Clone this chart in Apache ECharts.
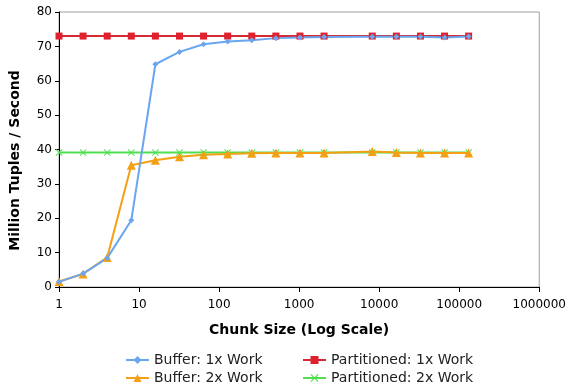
<!DOCTYPE html>
<html><head><meta charset="utf-8">
<script src="https://cdn.jsdelivr.net/npm/echarts@6/dist/echarts.min.js"></script>
<style>html,body{margin:0;padding:0;background:#fff}#c{width:569px;height:390px}</style>
</head><body><div id="c"></div>
<script>
const chunkSizes = [1,2,4,8,16,32,64,128,256,512,1024,2048,8192,16384,32768,65536,131072];
const buffer1x = [1.5,3.9,8.4,19.4,64.8,68.4,70.6,71.4,71.8,72.4,72.6,72.7,72.8,72.8,72.8,72.6,72.9];
const buffer2x = [1.6,3.8,8.6,35.4,36.9,37.9,38.5,38.7,38.9,39.0,39.0,39.0,39.4,39.1,39.0,39.0,39.0];
const partitioned1x = [73,73,73,73,73,73,73,73,73,73,73,73,73,73,73,73,73];
const partitioned2x = [39.1,39.1,39.1,39.1,39.1,39.1,39.1,39.1,39.1,39.1,39.1,39.1,39.1,39.1,39.1,39.1,39.1];
const xTicks = [1,10,100,1000,10000,100000,1000000];
const yTicks = [0,10,20,30,40,50,60,70,80];

const pair = arr => chunkSizes.map((x,i)=>[x,arr[i]]);
const xShape = 'path://M0,1L1,0L5,4L9,0L10,1L6,5L10,9L9,10L5,6L1,10L0,9L4,5Z';
const font = 'DejaVu Sans';
const chart = echarts.init(document.getElementById('c'));
const legendCommon = {orient:'vertical',top:353,padding:0,itemWidth:23,itemHeight:10,itemGap:4,
  textStyle:{fontFamily:font,fontSize:14,color:'#222'}};
chart.setOption({
  animation:false,
  textStyle:{fontFamily:font},
  grid:{left:58,right:27,top:12,bottom:103,show:true,borderColor:'#a0a0a0',borderWidth:1},
  xAxis:{type:'log',logBase:10,min:xTicks[0],max:xTicks[xTicks.length-1],
    name:'Chunk Size (Log Scale)',nameLocation:'middle',nameGap:36,
    nameTextStyle:{fontFamily:font,fontWeight:'bold',fontSize:14,color:'#000'},
    axisLine:{lineStyle:{color:'#000',width:1}},
    axisTick:{show:true,length:5,lineStyle:{color:'#000'}},
    minorTick:{show:false},
    splitLine:{show:false},
    axisLabel:{fontFamily:font,fontSize:12,color:'#000',margin:12,
      formatter:v=>String(Math.round(v))}},
  yAxis:{type:'value',min:yTicks[0],max:yTicks[yTicks.length-1],interval:10,
    name:'Million Tuples / Second',nameLocation:'middle',nameGap:37,
    nameTextStyle:{fontFamily:font,fontWeight:'bold',fontSize:14,color:'#000',padding:[0,22,0,0]},
    axisLine:{show:true,lineStyle:{color:'#000',width:1}},
    axisTick:{show:true,length:4,lineStyle:{color:'#000'}},
    splitLine:{show:false},
    axisLabel:{fontFamily:font,fontSize:12,color:'#000',margin:7}},
  legend:[
    Object.assign({data:['Buffer: 1x Work','Buffer: 2x Work'],left:125},legendCommon),
    Object.assign({data:['Partitioned: 1x Work','Partitioned: 2x Work'],left:302},legendCommon)
  ],
  series:[
    {name:'Partitioned: 2x Work',type:'line',data:pair(partitioned2x),symbol:xShape,symbolSize:7,
     lineStyle:{color:'#4ee04e',width:2},itemStyle:{color:'#4ee04e'}},
    {name:'Partitioned: 1x Work',type:'line',data:pair(partitioned1x),symbol:'rect',symbolSize:7,
     lineStyle:{color:'#d42a34',width:2},itemStyle:{color:'#e0202c'}},
    {name:'Buffer: 2x Work',type:'line',data:pair(buffer2x),symbol:'triangle',symbolSize:9,
     lineStyle:{color:'#f5a014',width:2},itemStyle:{color:'#f5a014'}},
    {name:'Buffer: 1x Work',type:'line',data:pair(buffer1x),symbol:'diamond',symbolSize:6,
     lineStyle:{color:'#6aa6f0',width:2},itemStyle:{color:'#6aa6f0'}}
  ]
});
</script></body></html>
